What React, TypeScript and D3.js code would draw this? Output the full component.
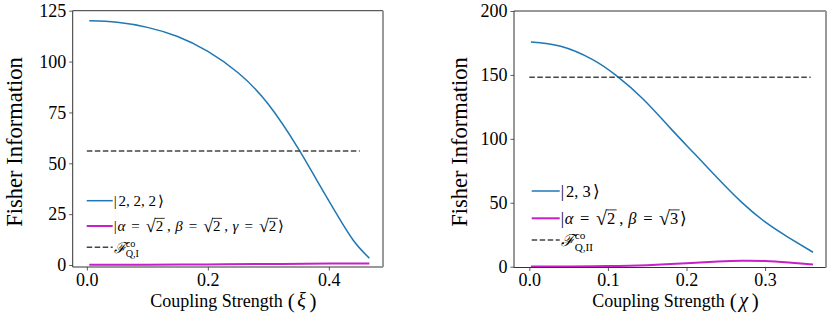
import React, { useRef, useEffect } from "react";
import * as d3 from "d3";

// ---- left panel: |2,2,2> vs coherent three-mode ----
const XI_222 = [0.004, 0.05, 0.1, 0.15, 0.2, 0.25, 0.3, 0.35, 0.38, 0.41, 0.44, 0.467];
const FI_222 = [120.0, 119.3, 116.8, 112.3, 105.0, 94.5, 79.0, 57.0, 41.7, 26.5, 12.3, 3.3];
const XI_COH3 = [0.004, 0.1, 0.2, 0.3, 0.4, 0.467];
const FI_COH3 = [0.1, 0.15, 0.3, 0.5, 0.7, 0.8];
const XI_BOUND = [0.0, 0.451];
const FI_BOUND_I = [56, 56];
const XI_TICKS = [0, 0.2, 0.4];
const FI_TICKS_L = [0, 25, 50, 75, 100, 125];

// ---- right panel: |2,3> vs coherent two-mode ----
const CHI_23 = [0.002, 0.04, 0.08, 0.11, 0.145, 0.18, 0.21, 0.24, 0.27, 0.3, 0.33, 0.361];
const FI_23 = [175.8, 172.4, 162.2, 149.8, 131.0, 108.0, 88.5, 69.0, 50.5, 35.0, 22.8, 11.3];
const CHI_COH2 = [0.002, 0.05, 0.1, 0.15, 0.2, 0.24, 0.27, 0.3, 0.33, 0.361];
const FI_COH2 = [0.1, 0.2, 0.5, 1.2, 2.6, 4.0, 4.7, 4.5, 3.3, 1.8];
const CHI_BOUND = [0.0, 0.358];
const FI_BOUND_II = [148.2, 148.2];
const CHI_TICKS = [0, 0.1, 0.2, 0.3];
const FI_TICKS_R = [0, 50, 100, 150, 200];

const FONT = "Times New Roman";
const BLUE = "#1f77b4";
const MAGENTA = "#c81fc8";
const GREY = "#444";

// a piece of legend "mathtext": pre/post = extra space in em, scale = size factor, over = sqrt bar
type Seg = {
  t: string;
  it?: boolean;
  over?: boolean;
  sup?: boolean;
  sub?: boolean;
  scale?: number;
  dy?: number;
  pre?: number;
  post?: number;
};
type Series = { xs: number[]; ys: number[]; color: string; dash?: string; width: number; label: Seg[] };

type PanelCfg = {
  box: [number, number, number, number]; // x0, x1, y0, y1
  xDomain: [number, number];
  yDomain: [number, number];
  xTicks: number[];
  yTicks: number[];
  xVar: string;
  ylabelX: number;
  legend: { x: number; rows: number[]; len: number; fs: number };
  series: Series[];
};

const EQ: Seg = { t: "=", pre: 0.4, post: 0.4 };
const SQRT: Seg = { t: "√", scale: 1.2, dy: 1 };
const COMMA: Seg = { t: ",", pre: 0.25, post: 0.3 };
const ket = (parts: string[]): Seg[] => [
  { t: "|", post: 0.12 },
  ...parts.flatMap((d, i) => (i < parts.length - 1 ? [{ t: d }, { t: ",", post: 0.25 }] : [{ t: d }])),
  { t: "⟩", pre: 0.15 },
];
const root = (d: string): Seg[] => [SQRT, { t: d, over: true }];

const panels: PanelCfg[] = [
  {
    box: [72.7, 383, 10.7, 267],
    xDomain: [-0.0234, 0.4895],
    yDomain: [-0.98, 125],
    xTicks: XI_TICKS,
    yTicks: FI_TICKS_L,
    xVar: "ξ",
    ylabelX: 21.5,
    legend: { x: 86.7, rows: [200.7, 226, 247.3], len: 26, fs: 15 },
    series: [
      { xs: XI_222, ys: FI_222, color: BLUE, width: 1.5, label: ket(["2", "2", "2"]) },
      {
        xs: XI_COH3, ys: FI_COH3, color: MAGENTA, width: 2,
        label: [
          { t: "|", post: 0.05 }, { t: "α", it: true }, EQ, ...root("2"), COMMA,
          { t: "β", it: true }, EQ, ...root("2"), COMMA,
          { t: "γ", it: true }, EQ, ...root("2"), { t: "⟩", pre: 0.12 },
        ],
      },
      {
        xs: XI_BOUND, ys: FI_BOUND_I, color: GREY, dash: "5.5,2.5", width: 1.5,
        label: [{ t: "ℱ", it: true }, { t: "co", sup: true }, { t: "Q,I", sub: true }],
      },
    ],
  },
  {
    box: [514, 826, 11, 267.5],
    xDomain: [-0.0195, 0.3775],
    yDomain: [-0.63, 200],
    xTicks: CHI_TICKS,
    yTicks: FI_TICKS_R,
    xVar: "χ",
    ylabelX: 466.7,
    legend: { x: 531.7, rows: [191, 218.3, 240], len: 28, fs: 16.5 },
    series: [
      { xs: CHI_23, ys: FI_23, color: BLUE, width: 1.5, label: ket(["2", "3"]) },
      {
        xs: CHI_COH2, ys: FI_COH2, color: MAGENTA, width: 2,
        label: [
          { t: "|", post: 0.05 }, { t: "α", it: true }, EQ, ...root("2"), COMMA,
          { t: "β", it: true }, EQ, ...root("3"), { t: "⟩", pre: 0.12 },
        ],
      },
      {
        xs: CHI_BOUND, ys: FI_BOUND_II, color: GREY, dash: "5.5,2.5", width: 1.5,
        label: [{ t: "ℱ", it: true }, { t: "co", sup: true }, { t: "Q,II", sub: true }],
      },
    ],
  },
];

// lay out the legend math one piece at a time
function drawMath(g: any, segs: Seg[], x: number, y: number, fs: number) {
  let cx = x;
  let supX: number | null = null;
  for (const s of segs) {
    const small = s.sup || s.sub;
    const size = small ? fs * 0.68 : fs * (s.scale ?? 1);
    const dy = s.sup ? -fs * 0.4 : s.sub ? fs * 0.3 : s.dy ?? 0;
    cx += (s.pre ?? 0) * fs;
    const sx = s.sub && supX != null ? supX : cx;
    const t = g
      .append("text")
      .attr("x", sx)
      .attr("y", y + dy)
      .attr("font-family", FONT)
      .attr("font-size", size)
      .attr("font-style", s.it ? "italic" : "normal")
      .text(s.t);
    const w = (t.node() as SVGTextElement).getComputedTextLength();
    if (s.over) {
      g.append("line")
        .attr("x1", sx - 1)
        .attr("x2", sx + w + 1.5)
        .attr("y1", y - fs * 0.86)
        .attr("y2", y - fs * 0.86)
        .attr("stroke", "#000")
        .attr("stroke-width", 0.8);
    }
    if (s.sup) {
      supX = cx;
      cx += w;
    } else if (s.sub) {
      cx = Math.max(cx, sx + w);
      supX = null;
    } else cx += w;
    cx += (s.post ?? 0) * fs;
  }
}

const App: React.FC = () => {
  const ref = useRef<SVGSVGElement | null>(null);

  useEffect(() => {
    const svg = d3.select(ref.current);
    svg.selectAll("*").remove();

    panels.forEach((p) => {
      const [x0, x1, y0, y1] = p.box;
      const x = d3.scaleLinear().domain(p.xDomain).range([x0, x1]);
      const y = d3.scaleLinear().domain(p.yDomain).range([y1, y0]);
      const g = svg.append("g");

      // Curves
      p.series.forEach((s) => {
        const pts = s.xs.map((v, i) => [v, s.ys[i]] as [number, number]);
        const line = d3
          .line<[number, number]>()
          .x((d) => x(d[0]))
          .y((d) => y(d[1]))
          .curve(d3.curveNatural);
        g.append("path")
          .datum(pts)
          .attr("fill", "none")
          .attr("stroke", s.color)
          .attr("stroke-width", s.width)
          .attr("stroke-dasharray", s.dash ?? null)
          .attr("d", line);
      });

      // Axes
      const ax = g
        .append("g")
        .attr("transform", `translate(0,${y1})`)
        .call(d3.axisBottom(x).tickValues(p.xTicks).tickSize(3.5).tickPadding(2.5).tickFormat(d3.format(".1f")));
      const ay = g
        .append("g")
        .attr("transform", `translate(${x0},0)`)
        .call(d3.axisLeft(y).tickValues(p.yTicks).tickSize(3.5).tickPadding(3).tickFormat(d3.format("d")));
      [ax, ay].forEach((a) => {
        a.select(".domain").remove();
        a.selectAll("line").attr("stroke", "#333").attr("stroke-width", 0.8);
        a.selectAll("text").attr("font-family", FONT).attr("font-size", 18).attr("fill", "#000");
      });

      // Frame (right spine drawn lighter and thicker like the original)
      g.append("line").attr("x1", x0).attr("x2", x1).attr("y1", y0).attr("y2", y0).attr("stroke", "#333").attr("stroke-width", 1);
      g.append("line").attr("x1", x0).attr("x2", x1).attr("y1", y1).attr("y2", y1).attr("stroke", "#333").attr("stroke-width", 1);
      g.append("line").attr("x1", x0).attr("x2", x0).attr("y1", y0).attr("y2", y1).attr("stroke", "#333").attr("stroke-width", 1);
      g.append("line").attr("x1", x1).attr("x2", x1).attr("y1", y0).attr("y2", y1).attr("stroke", "#999").attr("stroke-width", 2);

      // Labels
      const xl = g
        .append("text")
        .attr("x", (x0 + x1) / 2 + 5.5)
        .attr("y", 307.3)
        .attr("text-anchor", "middle")
        .attr("font-family", FONT)
        .attr("font-size", 18);
      xl.append("tspan").text("Coupling Strength");
      xl.append("tspan").attr("font-size", 21).attr("dx", 5).attr("dy", 1).text("(");
      xl.append("tspan").attr("font-style", "italic").attr("font-size", 20).attr("dx", 2.5).attr("dy", -1).text(p.xVar);
      xl.append("tspan").attr("font-size", 21).attr("dx", 3.5).attr("dy", 1).text(")");

      g.append("text")
        .attr("transform", `translate(${p.ylabelX},142) rotate(-90)`)
        .attr("text-anchor", "middle")
        .attr("font-family", FONT)
        .attr("font-size", 22.5)
        .text("Fisher Information");

      // Legend
      const lg = g.append("g");
      p.series.forEach((s, i) => {
        const ry = p.legend.rows[i];
        lg.append("line")
          .attr("x1", p.legend.x)
          .attr("x2", p.legend.x + p.legend.len)
          .attr("y1", ry)
          .attr("y2", ry)
          .attr("stroke", s.color)
          .attr("stroke-width", s.width)
          .attr("stroke-dasharray", s.dash ?? null);
        drawMath(lg, s.label, p.legend.x + p.legend.len + 1, ry + p.legend.fs * 0.35, p.legend.fs);
      });
    });
  }, []);

  return (
    <svg
      ref={ref}
      width={830}
      height={315}
      style={{ position: "absolute", left: 0, top: 0, background: "#fff" }}
    />
  );
};

export default App;
